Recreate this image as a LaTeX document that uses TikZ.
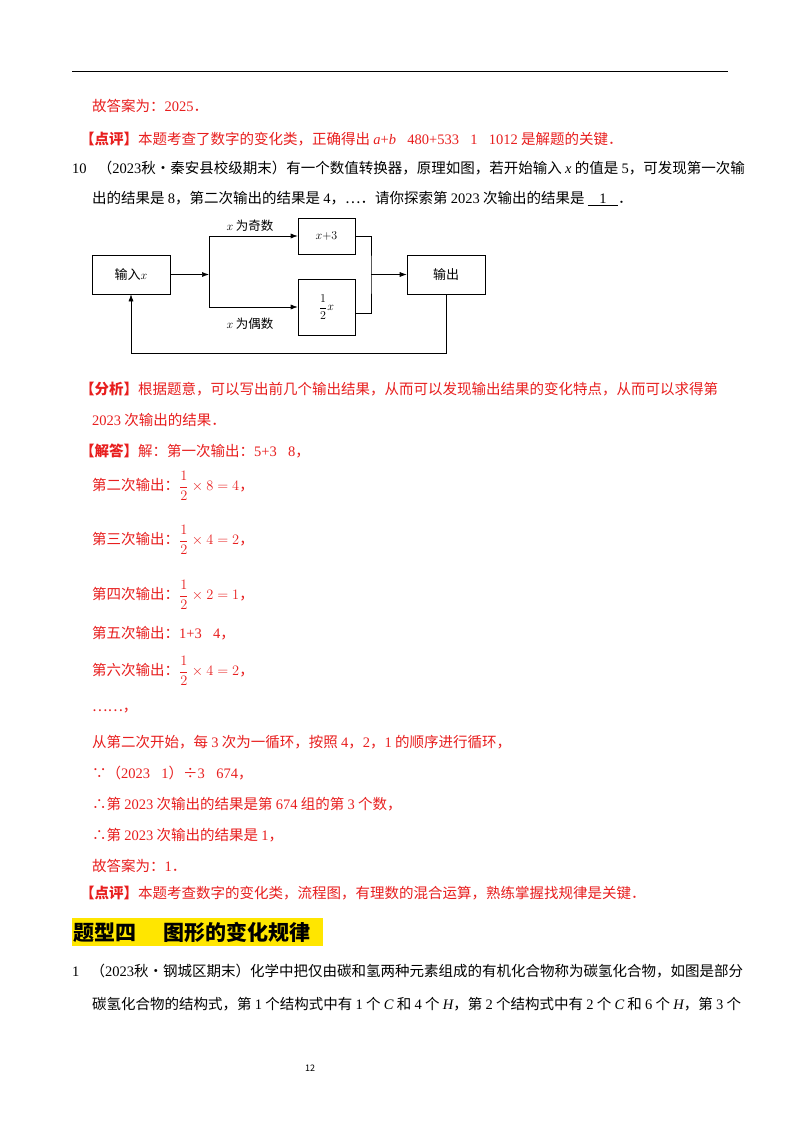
\documentclass[tikz,border=0pt]{standalone}
\usepackage{amsmath}
\usepackage{fontspec}
\setmainfont{Noto Sans CJK SC}
\newfontfamily\serifnum{Liberation Serif}
\usetikzlibrary{arrows.meta}
\definecolor{ansred}{RGB}{232,30,30}
\definecolor{hlyellow}{RGB}{255,230,0}
\tikzset{
 tl/.style={anchor=west,inner sep=0pt,font=\fontsize{14.5}{17}\selectfont},
 rl/.style={tl,text=ansred},
 fbox/.style={draw,line width=0.6pt,inner sep=0pt,font=\fontsize{13}{15}\selectfont},
 fl/.style={line width=0.6pt},
 fa/.style={fl,-{Latex[length=7pt,width=5pt]}}
}
\begin{document}
\begin{tikzpicture}[x=1pt,y=-1pt]
\useasboundingbox[fill=white] (0,0) rectangle (800,1132);
\draw[line width=1pt] (72,72) -- (728,72);
\node[rl] (l1) at (92,106) {故答案为：{\serifnum 2025}．};
\node[rl] (l2) at (80,139) {\textbf{【点评】}本题考查了数字的变化类，正确得出 {\serifnum\itshape a}{\serifnum +}{\serifnum\itshape b}{\serifnum ＝480+533﹣1＝1012} 是解题的关键．};
\node[tl] (l3) at (72,168) {{\serifnum 10．}（{\serifnum 2023}秋•秦安县校级期末）有一个数值转换器，原理如图，若开始输入 {\serifnum\itshape x} 的值是 {\serifnum 5}，可发现第一次输};
\node[tl] (l4) at (92,199) {出的结果是 {\serifnum 8}，第二次输出的结果是 {\serifnum 4}，…．请你探索第 {\serifnum 2023} 次输出的结果是 \underline{\hspace{0.8em}{\serifnum 1}\hspace{0.8em}}．};
% flowchart
\node[fbox,minimum width=78pt,minimum height=39pt] (in) at (131,274.5) {输入$x$};
\node[fbox,minimum width=57pt,minimum height=36pt] (odd) at (326.5,236) {$x{+}3$};
\node[fbox,minimum width=57pt,minimum height=56pt] (even) at (326.5,307) {$\dfrac{1}{2}x$};
\node[fbox,minimum width=78pt,minimum height=39pt] (out) at (446,274.5) {输出};
\coordinate (s) at (209,274.5);
\coordinate (m) at (371,274.5);
\draw[fa] (in.east) -- (s);
\draw[fa] (s) |- (odd.west);
\draw[fa] (s) |- (even.west);
\draw[fl] (odd.east) -| (m) |- ([yshift=-6pt]even.east);
\draw[fa] (m) -- (out.west);
\draw[fa] (out.south) -- ++(0,59) -| (in.south);
\node[font=\fontsize{12.5}{14}\selectfont] (lo) at (250,226) {$x$ 为奇数};
\node[font=\fontsize{12.5}{14}\selectfont] (le) at (250,324) {$x$ 为偶数};
% solution
\node[rl] (a1) at (80,389) {\textbf{【分析】}根据题意，可以写出前几个输出结果，从而可以发现输出结果的变化特点，从而可以求得第};
\node[rl] (a2) at (92,420) {{\serifnum 2023} 次输出的结果．};
\node[rl] (a3) at (80,451) {\textbf{【解答】}解：第一次输出：{\serifnum 5+3＝8}，};
\node[rl] (a4) at (92,486) {第二次输出：$\dfrac{1}{2}\times 8=4$，};
\node[rl] (a5) at (92,540) {第三次输出：$\dfrac{1}{2}\times 4=2$，};
\node[rl] (a6) at (92,595) {第四次输出：$\dfrac{1}{2}\times 2=1$，};
\node[rl] (a7) at (92,633) {第五次输出：{\serifnum 1+3＝4}，};
\node[rl] (a8) at (92,671) {第六次输出：$\dfrac{1}{2}\times 4=2$，};
\node[rl] (a9) at (92,711) {……，};
\node[rl] (a10) at (92,742) {从第二次开始，每 {\serifnum 3} 次为一循环，按照 {\serifnum 4}，{\serifnum 2}，{\serifnum 1} 的顺序进行循环，};
\node[rl] (a11) at (92,773) {∵（{\serifnum 2023﹣1}）÷{\serifnum 3＝674}，};
\node[rl] (a12) at (92,804) {∴第 {\serifnum 2023} 次输出的结果是第 {\serifnum 674} 组的第 {\serifnum 3} 个数，};
\node[rl] (a13) at (92,835) {∴第 {\serifnum 2023} 次输出的结果是 {\serifnum 1}，};
\node[rl] (a14) at (92,866) {故答案为：{\serifnum 1}．};
\node[rl] (a15) at (80,893) {\textbf{【点评】}本题考查数字的变化类，流程图，有理数的混合运算，熟练掌握找规律是关键．};
% heading
\fill[hlyellow] (72,918) rectangle (323,946);
\node[anchor=west,inner sep=0pt,font=\fontsize{21}{24}\selectfont\bfseries] (h) at (73,932) {题型四\hspace{1.3em}图形的变化规律};
\node[tl] (b1) at (72,971) {{\serifnum 1．}（{\serifnum 2023}秋•钢城区期末）化学中把仅由碳和氢两种元素组成的有机化合物称为碳氢化合物，如图是部分};
\node[tl] (b2) at (92,1004) {碳氢化合物的结构式，第 {\serifnum 1} 个结构式中有 {\serifnum 1} 个 {\serifnum\itshape C} 和 {\serifnum 4} 个 {\serifnum\itshape H}，第 {\serifnum 2} 个结构式中有 {\serifnum 2} 个 {\serifnum\itshape C} 和 {\serifnum 6} 个 {\serifnum\itshape H}，第 {\serifnum 3} 个};
\node[font=\fontsize{9}{10}\selectfont] (pg) at (310,1068) {12};
\end{tikzpicture}
\end{document}
